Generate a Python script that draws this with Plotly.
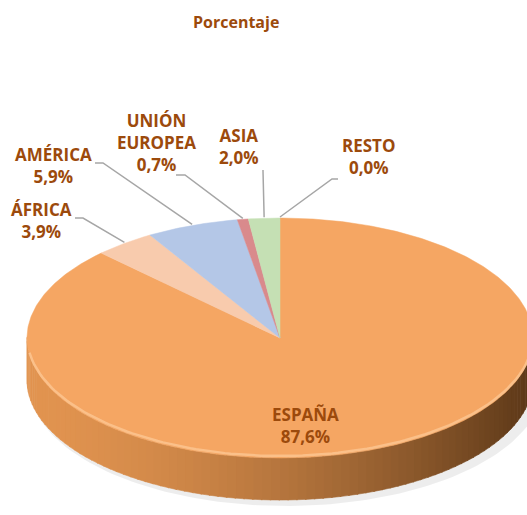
import numpy as np
import plotly.graph_objects as go

# ---------------- data ----------------
categories = ["ESPAÑA", "ÁFRICA", "AMÉRICA", "UNIÓN EUROPEA", "ASIA", "RESTO"]
values = [87.6, 3.9, 5.9, 0.7, 2.0, 0.0]
display_names = ["ESPAÑA", "ÁFRICA", "AMÉRICA", "UNIÓN<br>EUROPEA", "ASIA", "RESTO"]
title_text = "Porcentaje"

# ---------------- style ----------------
colors = ["#F5A663", "#F8CBAD", "#B4C7E7", "#D98A8C", "#C5E0B4", "#A9D18E"]
TEXT_COLOR = "#9C4A0C"
W, H = 527, 515
CX, CY, RX, RY, DEPTH = 280, 338, 253, 120, 42
FONT = dict(family="Open Sans", size=17, color=TEXT_COLOR, weight="bold")

# label block centres and leader start/elbow (None -> label sits on slice)
label_pos = {
    "ESPAÑA": dict(x=305, y=425, start=None, elbow=None),
    "ÁFRICA": dict(x=41, y=220, start=(75, 218), elbow=(83, 218)),
    "AMÉRICA": dict(x=53, y=165, start=(95, 163), elbow=(103, 163)),
    "UNIÓN EUROPEA": dict(x=156, y=142, start=(176, 175), elbow=(185, 175)),
    "ASIA": dict(x=239, y=146, start=(263, 170), elbow=(263, 171)),
    "RESTO": dict(x=368, y=156, start=(338, 179), elbow=(332, 179)),
}


def ell(theta_deg, dy=0.0, rx=RX, ry=RY, cx=CX, cy=CY):
    t = np.radians(theta_deg)
    return cx + rx * np.sin(t), cy - ry * np.cos(t) + dy


fig = go.Figure()

# soft shadow under the pie
sx, sy = ell(np.linspace(0, 360, 200), dy=DEPTH + 4, rx=RX + 4, ry=RY + 2, cx=CX + 6)
fig.add_trace(go.Scatter(x=sx, y=sy, fill="toself", mode="lines",
                         line=dict(width=0), fillcolor="rgba(0,0,0,0.07)",
                         hoverinfo="skip", showlegend=False))

total = sum(values)
angles = np.concatenate([[0], np.cumsum(values) / total * 360])

# side wall (front half, belongs to the slice covering it)
wall_n = 90
wall_edges = np.linspace(90, 270, wall_n + 1)
light = np.array([226, 148, 80])
dark = np.array([92, 56, 24])
for a, b in zip(wall_edges[:-1], wall_edges[1:]):
    mid = (a + b) / 2
    xm, _ = ell(mid)
    f = (xm - (CX - RX)) / (2 * RX)
    f = np.clip(f, 0, 1) ** 1.6
    c = (light * (1 - f) + dark * f).astype(int)
    col = f"rgb({c[0]},{c[1]},{c[2]})"
    th = np.linspace(a, b + 0.3, 4)
    tx, ty = ell(th)
    bx, by = ell(th[::-1], dy=DEPTH)
    fig.add_trace(go.Scatter(x=np.concatenate([tx, bx]), y=np.concatenate([ty, by]),
                             fill="toself", mode="lines", line=dict(width=0.6, color=col),
                             fillcolor=col, hoverinfo="skip", showlegend=False))

# top face slices
for i, cat in enumerate(categories):
    a0, a1 = angles[i], angles[i + 1]
    if a1 - a0 <= 0:
        continue
    th = np.linspace(a0, a1, max(3, int((a1 - a0) * 2)))
    ex, ey = ell(th)
    xs = np.concatenate([[CX], ex, [CX]])
    ys = np.concatenate([[CY], ey, [CY]])
    fig.add_trace(go.Scatter(x=xs, y=ys, fill="toself", mode="lines",
                             line=dict(width=0.5, color=colors[i]), fillcolor=colors[i],
                             name=cat, hoverinfo="name", showlegend=False))

# bevel highlight along the front edge
hx, hy = ell(np.linspace(100, 262, 120), dy=-2)
fig.add_trace(go.Scatter(x=hx, y=hy, mode="lines",
                         line=dict(width=2.5, color="rgba(255,214,170,0.55)"),
                         hoverinfo="skip", showlegend=False))

# labels and leader lines
annotations = []
for i, cat in enumerate(categories):
    p = label_pos[cat]
    txt = f"{display_names[i]}<br>{values[i]:.1f}".replace(".", ",") + "%"
    annotations.append(dict(x=p["x"], y=p["y"], xref="x", yref="y", text=txt,
                            showarrow=False, xanchor="center", yanchor="middle",
                            font=FONT, align="center"))
    if p["start"] is not None:
        mid = (angles[i] + angles[i + 1]) / 2
        px, py = ell(mid)
        fig.add_trace(go.Scatter(x=[p["start"][0], p["elbow"][0], px],
                                 y=[p["start"][1], p["elbow"][1], py - 1],
                                 mode="lines", line=dict(width=1.5, color="#A6A6A6"),
                                 hoverinfo="skip", showlegend=False))

annotations.append(dict(x=236, y=22, xref="x", yref="y", text=title_text, showarrow=False,
                        xanchor="center", yanchor="middle",
                        font=dict(family="Open Sans", size=16, color=TEXT_COLOR, weight="bold")))

fig.update_layout(
    width=W, height=H, autosize=False,
    margin=dict(l=0, r=0, t=0, b=0),
    paper_bgcolor="white", plot_bgcolor="white",
    xaxis=dict(range=[0, W], visible=False, fixedrange=True),
    yaxis=dict(range=[H, 0], visible=False, fixedrange=True),
    annotations=annotations,
    showlegend=False,
)

fig.write_html("out.html", config={"displayModeBar": False},
               post_script="document.body.style.margin='0';document.body.style.overflow='hidden';")
